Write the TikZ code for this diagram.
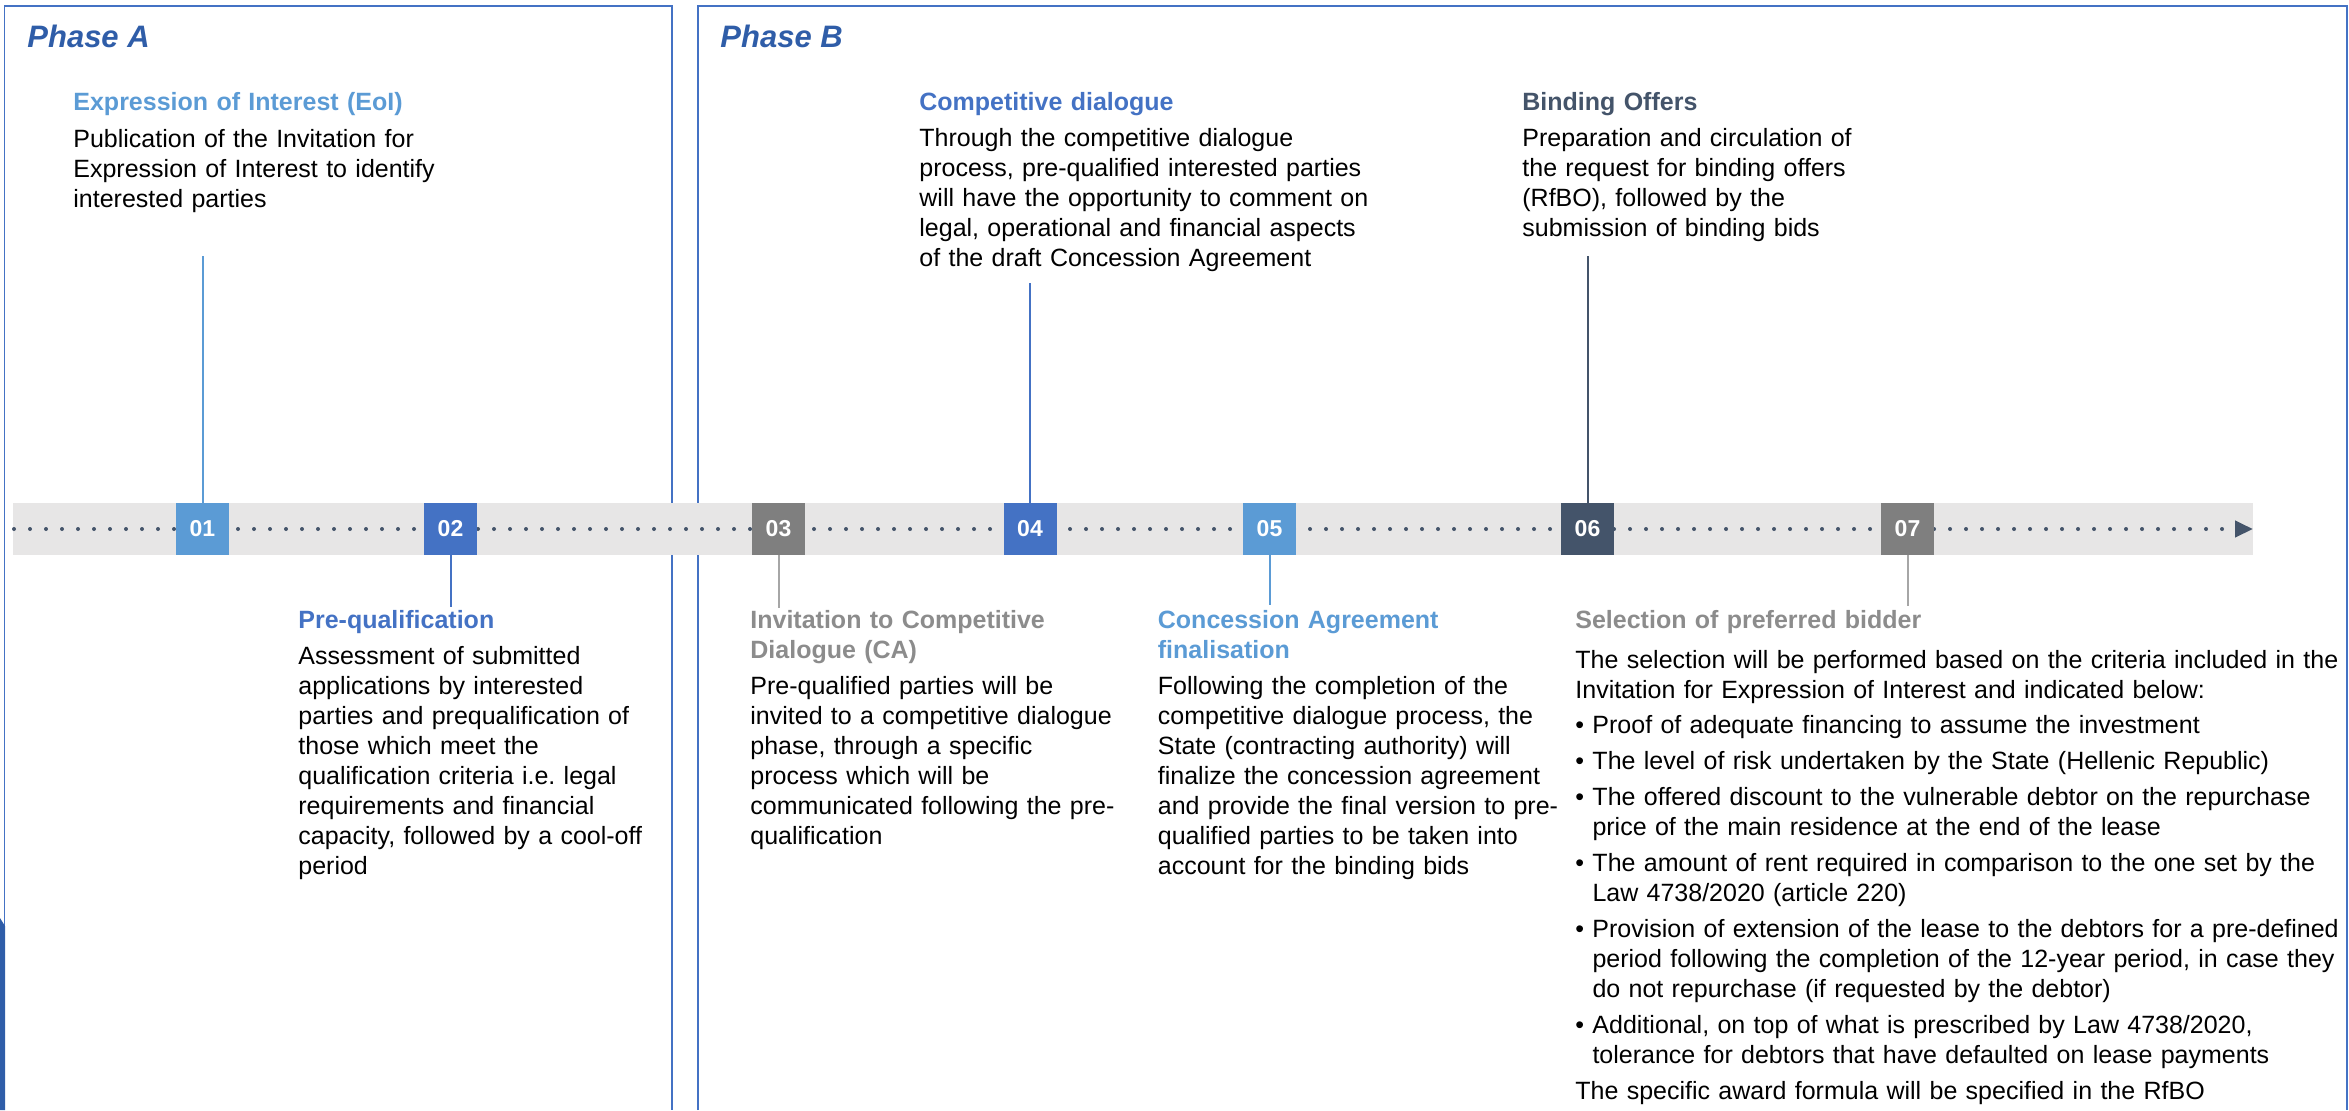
\documentclass[tikz,border=0pt]{standalone}
\usepackage{fontspec}
\setmainfont{Liberation Sans}
\usetikzlibrary{arrows.meta}
\frenchspacing
\definecolor{phaseblue}{RGB}{47,93,168}
\definecolor{framecol}{RGB}{68,114,196}
\definecolor{lightblue}{RGB}{91,155,213}
\definecolor{midblue}{RGB}{68,114,196}
\definecolor{slate}{RGB}{68,84,106}
\definecolor{boxgrey}{RGB}{127,127,127}
\definecolor{textgrey}{RGB}{140,140,140}
\definecolor{tickgrey}{RGB}{166,166,166}
\definecolor{bandgrey}{RGB}{231,230,230}

\begin{document}
\begin{tikzpicture}[x=0.5pt,y=-0.5pt,
  numbox/.style={minimum width=26.5pt, minimum height=26pt, inner sep=0pt, text=white, font=\fontsize{11.5}{13}\selectfont\bfseries},
  note/.style={anchor=base west, inner sep=0pt, align=left, text width=390pt, font=\fontsize{12.5}{15}\selectfont},
  phase/.style={anchor=base west, inner sep=0pt, text=phaseblue, font=\fontsize{15.5}{18}\selectfont\bfseries\itshape},
  tick/.style={line width=1pt},
  frame/.style={draw=framecol, line width=0.7pt}]
\useasboundingbox (0,0) rectangle (2349,1110);

% Phase frames
\draw[frame] (4.5,1110) -- (4.5,6) -- (672,6) -- (672,1110);
\draw[frame] (698,1110) -- (698,6) -- (2347,6) -- (2347,1110);
\fill[phaseblue] (0,918) -- (5,926) -- (5,1110) -- (0,1110) -- cycle;
\node[phase] (phaseA) at (27,47) {Phase A};
\node[phase] (phaseB) at (720,47) {Phase B};

% Timeline band and dotted arrow
\fill[bandgrey] (13,503) rectangle (2253,555);
\coordinate (tlstart) at (14,529);
\coordinate (tlend) at (2253,529);
\draw[slate, line width=2pt, line cap=round, dash pattern=on 0pt off 8pt, -{Triangle[length=9pt,width=8pt]}] (tlstart) -- (tlend);

% Step boxes
\node[numbox, fill=lightblue] (n01) at (202.5,529) {01};
\node[numbox, fill=midblue] (n02) at (450.5,529) {02};
\node[numbox, fill=boxgrey] (n03) at (778.5,529) {03};
\node[numbox, fill=midblue] (n04) at (1030,529) {04};
\node[numbox, fill=lightblue] (n05) at (1269.5,529) {05};
\node[numbox, fill=slate] (n06) at (1587.5,529) {06};
\node[numbox, fill=boxgrey] (n07) at (1907.5,529) {07};

% Ticks
\coordinate (e01) at (202.5,256);
\coordinate (e02) at (450.5,607);
\coordinate (e03) at (778.5,608);
\coordinate (e04) at (1030,283);
\coordinate (e05) at (1269.5,605);
\coordinate (e06) at (1587.5,256);
\coordinate (e07) at (1907.5,606);
\draw[tick, lightblue] (n01.north) -- (e01);
\draw[tick, midblue] (n02.south) -- (e02);
\draw[tick, tickgrey] (n03.south) -- (e03);
\draw[tick, midblue] (n04.north) -- (e04);
\draw[tick, lightblue] (n05.south) -- (e05);
\draw[tick, slate] (n06.north) -- (e06);
\draw[tick, tickgrey] (n07.south) -- (e07);

% Step texts
\node[note] (eoi) at (73,110) {\textcolor{lightblue}{\bfseries Expression of Interest (EoI)}\\[3.5pt]
Publication of the Invitation for\\
Expression of Interest to identify\\
interested parties};

\node[note] (preq) at (298,628) {\textcolor{midblue}{\bfseries Pre-qualification}\\[3pt]
Assessment of submitted\\
applications by interested\\
parties and prequalification of\\
those which meet the\\
qualification criteria i.e. legal\\
requirements and financial\\
capacity, followed by a cool-off\\
period};

\node[note] (invit) at (750,628) {\textcolor{textgrey}{\bfseries Invitation to Competitive}\\
\textcolor{textgrey}{\bfseries Dialogue (CA)}\\[3pt]
Pre-qualified parties will be\\
invited to a competitive dialogue\\
phase, through a specific\\
process which will be\\
communicated following the pre-\\
qualification};

\node[note] (compd) at (919,110) {\textcolor{midblue}{\bfseries Competitive dialogue}\\[3pt]
Through the competitive dialogue\\
process, pre-qualified interested parties\\
will have the opportunity to comment on\\
legal, operational and financial aspects\\
of the draft Concession Agreement};

\node[note] (conc) at (1157.5,628) {\textcolor{lightblue}{\bfseries Concession Agreement}\\
\textcolor{lightblue}{\bfseries finalisation}\\[3pt]
Following the completion of the\\
competitive dialogue process, the\\
State (contracting authority) will\\
finalize the concession agreement\\
and provide the final version to pre-\\
qualified parties to be taken into\\
account for the binding bids};

\node[note] (bind) at (1522,110) {\textcolor{slate}{\bfseries Binding Offers}\\[3pt]
Preparation and circulation of\\
the request for binding offers\\
(RfBO), followed by the\\
submission of binding bids};

\node[note] (select) at (1575,628) {\textcolor{textgrey}{\bfseries Selection of preferred bidder}\\[5pt]
The selection will be performed based on the criteria included in the\\
Invitation for Expression of Interest and indicated below:\\[2.5pt]
•\ Proof of adequate financing to assume the investment\\[3pt]
•\ The level of risk undertaken by the State (Hellenic Republic)\\[3pt]
•\ The offered discount to the vulnerable debtor on the repurchase\\
\hphantom{•\ }price of the main residence at the end of the lease\\[3pt]
•\ The amount of rent required in comparison to the one set by the\\
\hphantom{•\ }Law 4738/2020 (article 220)\\[3pt]
•\ Provision of extension of the lease to the debtors for a pre-defined\\
\hphantom{•\ }period following the completion of the 12-year period, in case they\\
\hphantom{•\ }do not repurchase (if requested by the debtor)\\[3pt]
•\ Additional, on top of what is prescribed by Law 4738/2020,\\
\hphantom{•\ }tolerance for debtors that have defaulted on lease payments\\[3pt]
The specific award formula will be specified in the RfBO};
\end{tikzpicture}
\end{document}
